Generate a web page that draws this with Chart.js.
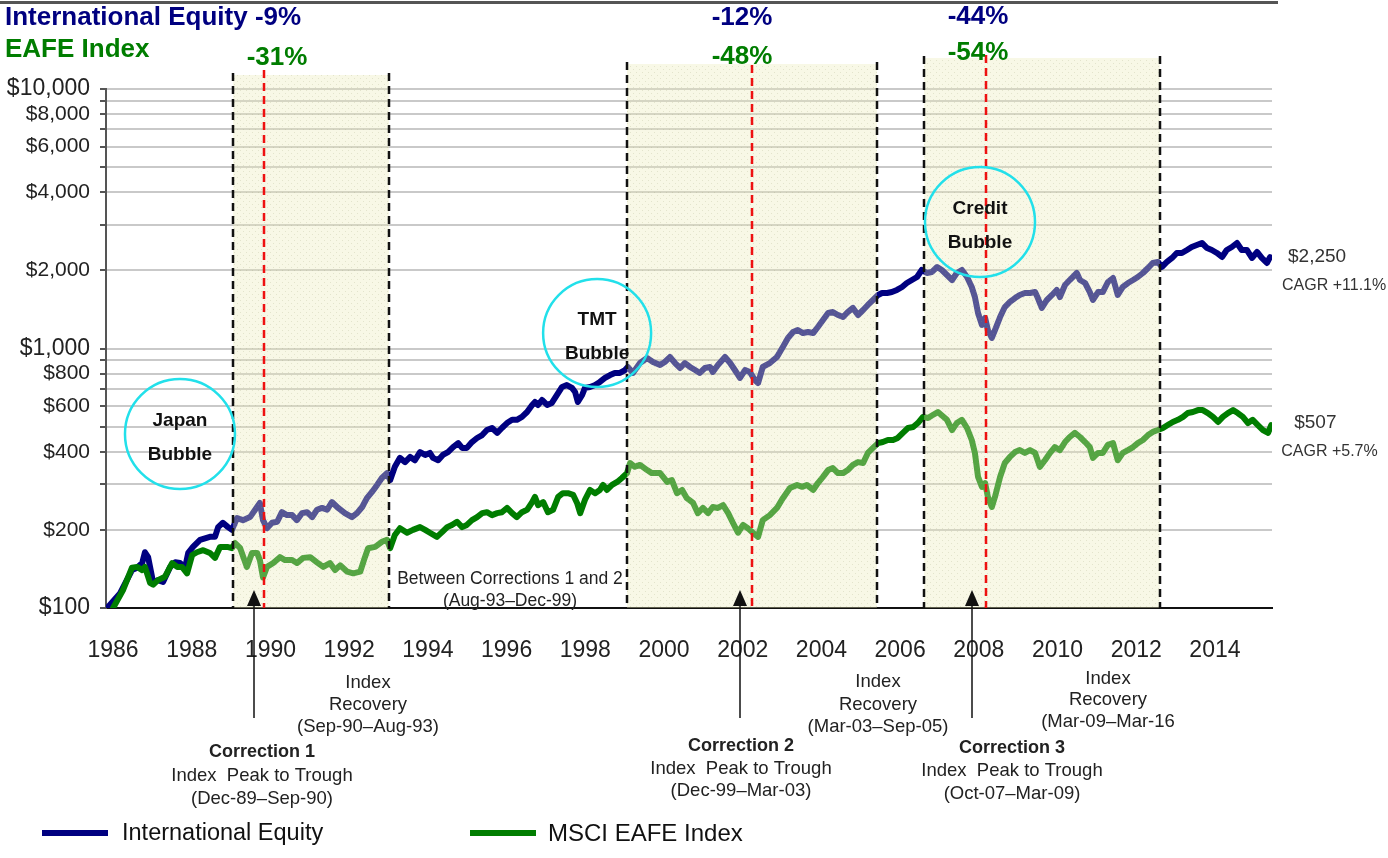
<!DOCTYPE html>
<html><head><meta charset="utf-8">
<script src="https://cdn.jsdelivr.net/npm/chart.js@4.4.1/dist/chart.umd.min.js"></script>
<style>html,body{margin:0;padding:0;background:#fff;}canvas{display:block;}</style>
</head><body>
<canvas id="c" width="1388" height="858"></canvas>
<script>
// ---- DATA ----
const intlEquity = [[1985.85,100],[1986.18,114],[1986.48,140],[1986.61,143],[1986.74,149],[1986.81,164],[1986.89,157],[1987.02,125],[1987.14,128],[1987.27,126],[1987.45,144],[1987.58,150],[1987.70,149],[1987.83,143],[1987.91,163],[1988.03,172],[1988.21,183],[1988.46,188],[1988.59,188],[1988.67,205],[1988.79,213],[1988.92,205],[1989.02,200],[1989.15,222],[1989.30,218],[1989.48,224],[1989.61,239],[1989.73,254],[1989.81,218],[1989.91,203],[1990.04,213],[1990.17,215],[1990.29,234],[1990.42,228],[1990.55,228],[1990.67,218],[1990.80,232],[1990.93,234],[1991.06,224],[1991.18,239],[1991.31,243],[1991.44,239],[1991.56,256],[1991.72,243],[1991.89,232],[1992.07,224],[1992.20,232],[1992.33,245],[1992.45,265],[1992.58,280],[1992.71,298],[1992.83,317],[1992.96,331],[1993.04,311],[1993.16,350],[1993.29,379],[1993.42,365],[1993.55,382],[1993.67,371],[1993.80,399],[1993.93,389],[1994.05,396],[1994.13,379],[1994.26,371],[1994.38,389],[1994.51,399],[1994.64,417],[1994.77,432],[1994.87,414],[1994.99,414],[1995.12,436],[1995.25,452],[1995.38,464],[1995.50,485],[1995.63,494],[1995.76,473],[1995.88,494],[1996.01,516],[1996.14,531],[1996.26,531],[1996.39,545],[1996.52,569],[1996.65,606],[1996.72,622],[1996.80,606],[1996.90,633],[1997.03,606],[1997.15,617],[1997.28,662],[1997.41,711],[1997.53,723],[1997.66,705],[1997.74,680],[1997.81,622],[1997.92,662],[1997.99,705],[1998.12,711],[1998.25,723],[1998.37,743],[1998.50,770],[1998.63,790],[1998.75,805],[1998.88,805],[1999.01,826],[1999.08,849],[1999.21,805],[1999.39,879],[1999.57,919],[1999.72,887],[1999.90,864],[2000.02,887],[2000.15,927],[2000.28,879],[2000.41,841],[2000.53,879],[2000.66,849],[2000.79,826],[2000.91,805],[2001.04,841],[2001.17,849],[2001.24,812],[2001.37,864],[2001.55,927],[2001.68,879],[2001.80,826],[2001.93,770],[2002.06,826],[2002.18,812],[2002.31,756],[2002.39,736],[2002.51,849],[2002.69,879],[2002.87,927],[2003.02,1013],[2003.15,1098],[2003.28,1157],[2003.40,1178],[2003.53,1147],[2003.66,1157],[2003.79,1147],[2003.91,1210],[2004.04,1288],[2004.17,1370],[2004.29,1382],[2004.42,1346],[2004.55,1322],[2004.67,1382],[2004.80,1433],[2004.93,1346],[2005.06,1407],[2005.18,1472],[2005.31,1538],[2005.44,1608],[2005.54,1636],[2005.67,1636],[2005.79,1650],[2005.92,1681],[2006.05,1726],[2006.17,1788],[2006.30,1836],[2006.43,1886],[2006.55,2007],[2006.68,1954],[2006.81,1972],[2006.94,2061],[2007.06,2007],[2007.19,1920],[2007.32,1836],[2007.44,1954],[2007.57,2007],[2007.70,1886],[2007.82,1726],[2007.90,1579],[2007.98,1370],[2008.08,1232],[2008.16,1311],[2008.23,1178],[2008.33,1098],[2008.41,1178],[2008.54,1322],[2008.66,1445],[2008.79,1511],[2008.92,1565],[2009.04,1608],[2009.17,1636],[2009.30,1636],[2009.43,1650],[2009.50,1565],[2009.60,1433],[2009.73,1538],[2009.86,1608],[2009.98,1681],[2010.06,1579],[2010.19,1757],[2010.31,1836],[2010.49,1954],[2010.57,1836],[2010.70,1788],[2010.82,1650],[2010.90,1538],[2011.03,1650],[2011.15,1650],[2011.28,1804],[2011.41,1869],[2011.53,1608],[2011.66,1726],[2011.79,1788],[2011.92,1836],[2012.04,1886],[2012.17,1954],[2012.30,2043],[2012.42,2136],[2012.55,2155],[2012.65,2061],[2012.78,2155],[2012.91,2233],[2013.03,2334],[2013.16,2334],[2013.29,2397],[2013.41,2461],[2013.54,2505],[2013.67,2550],[2013.80,2439],[2013.92,2397],[2014.05,2334],[2014.18,2252],[2014.30,2397],[2014.43,2461],[2014.56,2550],[2014.68,2397],[2014.81,2397],[2014.94,2233],[2015.07,2355],[2015.19,2233],[2015.32,2136],[2015.40,2250]];

const msciEafe = [[1986.00,100],[1986.25,117],[1986.48,143],[1986.61,144],[1986.74,140],[1986.81,144],[1986.94,125],[1987.02,123],[1987.14,128],[1987.32,132],[1987.50,149],[1987.63,144],[1987.75,144],[1987.88,136],[1988.01,160],[1988.13,164],[1988.29,167],[1988.46,163],[1988.59,156],[1988.72,172],[1988.90,172],[1989.02,170],[1989.10,178],[1989.23,170],[1989.40,144],[1989.53,163],[1989.66,163],[1989.73,153],[1989.81,131],[1989.91,144],[1990.07,149],[1990.24,157],[1990.37,153],[1990.55,153],[1990.67,149],[1990.83,156],[1991.01,157],[1991.18,150],[1991.34,144],[1991.51,149],[1991.64,140],[1991.77,146],[1991.95,138],[1992.10,136],[1992.28,138],[1992.40,157],[1992.48,170],[1992.66,172],[1992.83,180],[1992.96,183],[1993.04,170],[1993.16,191],[1993.29,203],[1993.47,195],[1993.62,200],[1993.80,205],[1993.93,200],[1994.05,195],[1994.23,188],[1994.36,196],[1994.49,205],[1994.61,209],[1994.74,215],[1994.87,205],[1994.99,209],[1995.12,218],[1995.25,224],[1995.38,232],[1995.50,234],[1995.63,228],[1995.76,232],[1995.88,234],[1996.01,243],[1996.14,232],[1996.26,224],[1996.39,234],[1996.52,239],[1996.65,256],[1996.72,268],[1996.80,249],[1996.93,256],[1997.05,234],[1997.18,239],[1997.31,268],[1997.43,277],[1997.56,277],[1997.69,273],[1997.79,254],[1997.87,232],[1997.99,261],[1998.12,285],[1998.25,277],[1998.37,285],[1998.45,298],[1998.55,285],[1998.68,298],[1998.81,306],[1998.93,317],[1999.06,331],[1999.14,362],[1999.26,350],[1999.39,356],[1999.57,340],[1999.69,331],[1999.90,331],[2000.08,306],[2000.20,311],[2000.33,277],[2000.46,285],[2000.58,265],[2000.74,254],[2000.86,232],[2000.99,243],[2001.12,232],[2001.24,245],[2001.37,243],[2001.50,249],[2001.63,232],[2001.75,213],[2001.88,195],[2002.01,209],[2002.13,203],[2002.26,195],[2002.39,188],[2002.51,218],[2002.69,228],[2002.87,243],[2003.02,265],[2003.20,290],[2003.38,298],[2003.51,293],[2003.63,298],[2003.79,285],[2003.91,303],[2004.04,320],[2004.17,340],[2004.29,346],[2004.42,331],[2004.55,331],[2004.67,340],[2004.80,356],[2004.93,365],[2005.06,362],[2005.18,396],[2005.31,414],[2005.44,432],[2005.56,436],[2005.69,444],[2005.82,444],[2005.94,452],[2006.07,473],[2006.20,494],[2006.33,498],[2006.45,516],[2006.58,545],[2006.71,540],[2006.83,554],[2006.96,569],[2007.19,531],[2007.32,485],[2007.44,516],[2007.57,531],[2007.70,494],[2007.82,444],[2007.90,396],[2007.98,320],[2008.08,293],[2008.16,303],[2008.23,268],[2008.33,245],[2008.41,268],[2008.54,320],[2008.66,362],[2008.79,382],[2008.92,399],[2009.04,406],[2009.17,396],[2009.30,406],[2009.43,396],[2009.55,350],[2009.68,371],[2009.81,396],[2009.93,417],[2010.06,406],[2010.19,436],[2010.31,456],[2010.44,473],[2010.57,456],[2010.70,436],[2010.82,417],[2010.90,379],[2011.03,396],[2011.15,396],[2011.28,425],[2011.41,432],[2011.53,371],[2011.66,396],[2011.79,406],[2011.92,417],[2012.04,432],[2012.17,444],[2012.30,464],[2012.42,477],[2012.55,485],[2012.68,494],[2012.80,507],[2012.93,521],[2013.06,531],[2013.19,545],[2013.31,564],[2013.44,569],[2013.57,579],[2013.69,579],[2013.82,564],[2013.95,545],[2014.08,521],[2014.20,545],[2014.33,564],[2014.46,579],[2014.58,564],[2014.71,545],[2014.84,516],[2014.96,531],[2015.09,507],[2015.22,485],[2015.35,473],[2015.43,507]];

const yearTicks = [1986,1988,1990,1992,1994,1996,1998,2000,2002,2004,2006,2008,2010,2012,2014];
const yGridValues = [100,200,300,400,500,600,700,800,900,1000,2000,3000,4000,5000,6000,7000,8000,9000,10000];
const yTickLabels = {100:'$100',200:'$200',400:'$400',600:'$600',800:'$800',1000:'$1,000',2000:'$2,000',4000:'$4,000',6000:'$6,000',8000:'$8,000',10000:'$10,000'};
const bigYLabels = [100,1000,10000];

// periods (in x-axis years)
const shadedPeriods = [[1989.05,1993.01,-14],[1999.06,2005.41,-25],[2006.61,2012.60,-31]];
const troughYears = [[1989.84,-19],[2002.24,-24],[2008.18,-34]];
const arrowYears = [1989.58,2001.93,2007.82];
const bubbles = [
  {x:1987.70, y:468, r:55, lines:['Japan','Bubble']},
  {x:1998.30, y:1147, r:54, lines:['TMT','Bubble']},
  {x:2008.03, y:3073, r:55, lines:['Credit','Bubble']}
];

const SANS = "'Liberation Sans', Arial, Helvetica, sans-serif";
const NAVY = '#000080';
const GREEN = '#007d00';

function makePattern(ctx){
  const c = document.createElement('canvas'); c.width = 6; c.height = 6;
  const p = c.getContext('2d');
  p.fillStyle = 'rgba(236,236,185,0.36)'; p.fillRect(0,0,6,6);
  p.fillStyle = 'rgba(150,155,110,0.22)';
  p.fillRect(0,0,1,1); p.fillRect(3,3,1,1);
  return ctx.createPattern(c,'repeat');
}

function text(ctx, str, x, y, font, color, align){
  ctx.font = font; ctx.fillStyle = color; ctx.textAlign = align || 'center'; ctx.textBaseline = 'middle';
  ctx.fillText(str, x, y);
}

const overlay = {
  id:'overlay',
  afterDraw(chart){
    const ctx = chart.ctx, xs = chart.scales.x, ys = chart.scales.y, ca = chart.chartArea;
    ctx.save();
    // shaded periods
    const pat = makePattern(ctx);
    shadedPeriods.forEach(([a,b,t])=>{
      const x1 = xs.getPixelForValue(a), x2 = xs.getPixelForValue(b);
      ctx.fillStyle = pat;
      ctx.fillRect(x1, ca.top + t, x2 - x1, ca.bottom - ca.top - t);
    });
    // black dashed boundaries
    ctx.lineWidth = 2.5; ctx.strokeStyle = '#111'; ctx.setLineDash([8,5]);
    shadedPeriods.forEach(([a,b,t])=>{
      [a,b].forEach(v=>{
        const x = Math.round(xs.getPixelForValue(v));
        ctx.beginPath(); ctx.moveTo(x, ca.top + t - 2); ctx.lineTo(x, ca.bottom); ctx.stroke();
      });
    });
    // red trough lines
    ctx.strokeStyle = '#ee1111';
    troughYears.forEach(([v,t])=>{
      const x = Math.round(xs.getPixelForValue(v));
      ctx.beginPath(); ctx.moveTo(x, ca.top + t); ctx.lineTo(x, ca.bottom); ctx.stroke();
    });
    ctx.setLineDash([]);
    // bubbles
    bubbles.forEach(b=>{
      const cx = xs.getPixelForValue(b.x), cy = ys.getPixelForValue(b.y);
      ctx.beginPath(); ctx.arc(cx, cy, b.r, 0, Math.PI*2);
      ctx.strokeStyle = '#22e0ea'; ctx.lineWidth = 2.5; ctx.stroke();
      text(ctx, b.lines[0], cx, cy - 13, 'bold 19px '+SANS, '#111');
      text(ctx, b.lines[1], cx, cy + 21, 'bold 19px '+SANS, '#111');
    });
    // arrows
    ctx.strokeStyle = '#111'; ctx.fillStyle = '#111'; ctx.lineWidth = 1.5;
    arrowYears.forEach(v=>{
      const x = Math.round(xs.getPixelForValue(v));
      ctx.beginPath(); ctx.moveTo(x, 718); ctx.lineTo(x, 604); ctx.stroke();
      ctx.beginPath(); ctx.moveTo(x, 590); ctx.lineTo(x-7, 606); ctx.lineTo(x+7, 606); ctx.closePath(); ctx.fill();
    });
    // top border
    ctx.fillStyle = '#555'; ctx.fillRect(0, 1, 1278, 3);
    // titles
    text(ctx, 'International Equity -9%', 5, 18, 'bold 26px '+SANS, NAVY, 'left');
    text(ctx, 'EAFE Index', 5, 50, 'bold 26px '+SANS, GREEN, 'left');
    text(ctx, '-31%', 277, 58, 'bold 26px '+SANS, GREEN);
    text(ctx, '-12%', 742, 18, 'bold 26px '+SANS, NAVY);
    text(ctx, '-48%', 742, 57, 'bold 26px '+SANS, GREEN);
    text(ctx, '-44%', 978, 17, 'bold 26px '+SANS, NAVY);
    text(ctx, '-54%', 978, 53, 'bold 26px '+SANS, GREEN);
    // end labels
    const eqLast = intlEquity[intlEquity.length-1], efLast = msciEafe[msciEafe.length-1];
    const ex = xs.getPixelForValue(eqLast[0]), ey = ys.getPixelForValue(eqLast[1]);
    const fx = xs.getPixelForValue(efLast[0]), fy = ys.getPixelForValue(efLast[1]);
    text(ctx, '$2,250', ex + 18, ey, '19px '+SANS, '#333', 'left');
    text(ctx, 'CAGR +11.1%', ex + 12, ey + 28, '16px '+SANS, '#333', 'left');
    text(ctx, '$507', fx + 23, fy - 2, '19px '+SANS, '#333', 'left');
    text(ctx, 'CAGR +5.7%', fx + 10, fy + 27, '16px '+SANS, '#333', 'left');
    // between corrections
    text(ctx, 'Between Corrections 1 and 2', 510, 579, '17.5px '+SANS, '#222');
    text(ctx, '(Aug-93\u2013Dec-99)', 510, 601, '17.5px '+SANS, '#222');
    // bottom annotations
    const nf = '18.5px '+SANS, bf = 'bold 18px '+SANS, col = '#222';
    const block = (x, ys3, lines, boldFirst)=>{
      lines.forEach((s,i)=> text(ctx, s, x, ys3[i], (boldFirst && i===0) ? bf : nf, col));
    };
    block(368, [683,705,727], ['Index','Recovery','(Sep-90\u2013Aug-93)']);
    block(262, [752,776,799], ['Correction 1','Index  Peak to Trough','(Dec-89\u2013Sep-90)'], true);
    block(741, [746,769,791], ['Correction 2','Index  Peak to Trough','(Dec-99\u2013Mar-03)'], true);
    block(878, [682,705,727], ['Index','Recovery','(Mar-03\u2013Sep-05)']);
    block(1012, [748,771,794], ['Correction 3','Index  Peak to Trough','(Oct-07\u2013Mar-09)'], true);
    block(1108, [679,700,722], ['Index','Recovery','(Mar-09\u2013Mar-16']);
    // legend
    ctx.fillStyle = NAVY; ctx.fillRect(42, 830, 66, 6);
    text(ctx, 'International Equity', 122, 834, '23.5px '+SANS, '#111', 'left');
    ctx.fillStyle = GREEN; ctx.fillRect(470, 830, 66, 6);
    text(ctx, 'MSCI EAFE Index', 548, 834, '24px '+SANS, '#111', 'left');
    ctx.restore();
  }
};

new Chart(document.getElementById('c').getContext('2d'), {
  type:'line',
  data:{datasets:[
    {label:'MSCI EAFE Index', data: msciEafe.map(p=>({x:p[0], y:p[1]})), borderColor:GREEN, borderWidth:6, pointRadius:0, tension:0, order:0, borderJoinStyle:'round', borderCapStyle:'round'},
    {label:'International Equity', data: intlEquity.map(p=>({x:p[0], y:p[1]})), borderColor:NAVY, borderWidth:6, pointRadius:0, tension:0, order:1, borderJoinStyle:'round', borderCapStyle:'round'}
  ]},
  options:{
    responsive:false, animation:false, devicePixelRatio:1,
    layout:{padding:{left:0, right:116, top:89, bottom:190}},
    plugins:{legend:{display:false}, tooltip:{enabled:false}},
    scales:{
      x:{type:'linear', min:1985.82, max:2015.45,
        afterBuildTicks:s=>{ s.ticks = yearTicks.map(v=>({value:v})); },
        afterFit:s=>{ s.height = 60; },
        grid:{display:false, drawTicks:false},
        border:{display:true, color:'#111', width:2},
        ticks:{autoSkip:false, maxRotation:0, padding:29, color:'#222', font:{family:SANS, size:23}, callback:v=>String(v)}
      },
      y:{type:'logarithmic', min:100, max:10000,
        afterBuildTicks:s=>{ s.ticks = yGridValues.map(v=>({value:v})); },
        afterFit:s=>{ s.width = 106; },
        grid:{color:c=> c.tick && c.tick.value===100 ? 'rgba(0,0,0,0)' : '#c9c9c9', lineWidth:2, drawTicks:true, tickLength:6, tickColor:'#555', tickWidth:2},
        border:{display:true, color:'#555', width:2},
        ticks:{autoSkip:false, padding:10, color:'#222',
          font:c=> (c.tick && bigYLabels.includes(c.tick.value)) ? {family:SANS, size:23} : {family:SANS, size:21},
          callback:v=> yTickLabels[v] || ''}
      }
    }
  },
  plugins:[overlay]
});
</script>
</body></html>
